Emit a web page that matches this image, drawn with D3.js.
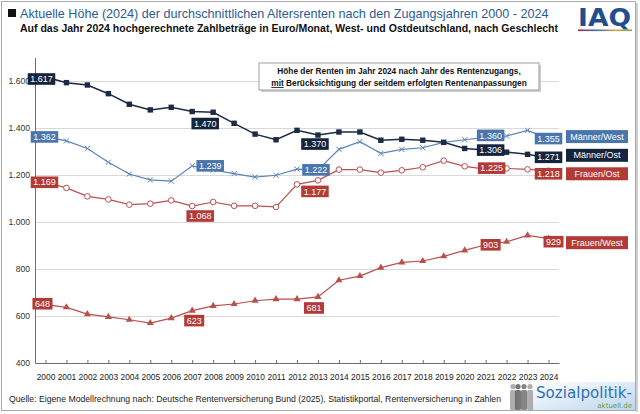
<!DOCTYPE html>
<html>
<head>
<meta charset="utf-8">
<title>Altersrenten nach Zugangsjahren</title>
<script src="https://d3js.org/d3.v7.min.js"></script>
<style>
  html, body { margin: 0; padding: 0; background: #fff; }
  svg { font-family: 'Liberation Sans', Arial, sans-serif; display: block; }
</style>
</head>
<body>
<div id="chart"></div>
<script>
// Daten
const years = [2000, 2001, 2002, 2003, 2004, 2005, 2006, 2007, 2008, 2009, 2010, 2011, 2012,
               2013, 2014, 2015, 2016, 2017, 2018, 2019, 2020, 2021, 2022, 2023, 2024]
const maennerOst  = [1617, 1593, 1583, 1546, 1501, 1477, 1488, 1470, 1467, 1420, 1374, 1350, 1390,
                     1370, 1383, 1383, 1348, 1352, 1348, 1339, 1313, 1306, 1297, 1288, 1271]
const maennerWest = [1362, 1345, 1313, 1254, 1204, 1179, 1174, 1239, 1222, 1206, 1191, 1199, 1225,
                     1222, 1309, 1342, 1292, 1309, 1316, 1339, 1350, 1360, 1366, 1390, 1355]
const frauenOst   = [1169, 1145, 1109, 1096, 1074, 1078, 1092, 1068, 1085, 1069, 1069, 1064, 1160,
                     1177, 1223, 1223, 1210, 1220, 1233, 1261, 1237, 1225, 1228, 1224, 1218]
const frauenWest  = [648, 637, 608, 596, 584, 570, 591, 623, 643, 651, 665, 672, 672,
                     681, 752, 770, 806, 828, 834, 854, 879, 903, 916, 943, 929]
const yTicks = [400, 600, 800, 1000, 1200, 1400, 1600]
const labelYears = [2000, 2007, 2013, 2021, 2024]

const title = 'Aktuelle Höhe (2024) der durchschnittlichen Altersrenten nach den Zugangsjahren 2000 - 2024'
const subtitle = 'Auf das Jahr 2024 hochgerechnete Zahlbeträge in Euro/Monat, West- und Ostdeutschland, nach Geschlecht'
const noteLine1 = 'Höhe der Renten im Jahr 2024 nach Jahr des Rentenzugangs,'
const noteLine2 = ' Berücksichtigung der seitdem erfolgten Rentenanpassungen'
const source = 'Quelle: Eigene Modellrechnung nach: Deutsche Rentenversicherung Bund (2025), Statistikportal, Rentenversicherung in Zahlen'

// Darstellung der Reihen (Farbe, Marker, Lage der Wertelabels)
const series = [
  { name: 'Männer/West', values: maennerWest, line: '#5b83b6', box: '#4a76ad', marker: 'cross',
    offs: [[-1, 0], [18, 0], [-2, 0], [5, -2], [0, 0]], legendDy: -2 },
  { name: 'Männer/Ost', values: maennerOst, line: '#1b2a45', box: '#15243d', marker: 'square',
    offs: [[-4, 2], [13, 12], [-3, 9], [5, 0], [0, -1]], legendDy: -3 },
  { name: 'Frauen/Ost', values: frauenOst, line: '#b9504c', box: '#b23b37', marker: 'circle',
    offs: [[-1, 0], [8, 10], [-3, 11], [6, -1], [0, 3]], legendDy: 3 },
  { name: 'Frauen/West', values: frauenWest, line: '#b9504c', box: '#b23b37', marker: 'triangle',
    offs: [[-3, -1], [2, 10], [-4, 11], [5, 0], [5, 3]], legendDy: 4 }
]

const W = 640, H = 414
const plot = { left: 35, right: 559, top: 57.5, bottom: 363 }

const de = d3.formatLocale({ decimal: ',', thousands: '.', grouping: [3], currency: ['', ' €'] })
const fmt = de.format(',d')

const svg = d3.select('#chart').append('svg')
  .attr('width', W).attr('height', H)

// Rahmen
svg.append('rect')
  .attr('x', 1.5).attr('y', 1.5).attr('width', 634).attr('height', 409)
  .attr('fill', '#fff').attr('stroke', '#a9a9a9')
svg.append('line')
  .attr('x1', 637).attr('x2', 637).attr('y1', 3).attr('y2', 412)
  .attr('stroke', '#d0d0d0').attr('stroke-width', 2)

// Titel
svg.append('rect').attr('x', 8).attr('y', 9).attr('width', 8).attr('height', 8).attr('fill', '#111')
svg.append('text').attr('x', 20).attr('y', 18)
  .attr('font-size', 12.6).attr('fill', '#2c5a95').text(title)
svg.append('text').attr('x', 20).attr('y', 32)
  .attr('font-size', 10.2).attr('font-weight', 'bold').attr('fill', '#111')
  .attr('textLength', 538).attr('lengthAdjust', 'spacingAndGlyphs').text(subtitle)

// IAQ Logo
const grad = svg.append('defs').append('linearGradient').attr('id', 'iaqbar')
grad.selectAll('stop')
  .data([['0%', '#8a2c48'], ['35%', '#3a6db0'], ['70%', '#d8a441'], ['100%', '#6aa84f']])
  .enter().append('stop').attr('offset', d => d[0]).attr('stop-color', d => d[1])
svg.append('text').attr('x', 578).attr('y', 26)
  .attr('font-family', "'DejaVu Sans', sans-serif")
  .attr('font-size', 25).attr('font-weight', 'bold').attr('fill', '#1f4f8f')
  .attr('textLength', 53).attr('lengthAdjust', 'spacingAndGlyphs').text('IAQ')
svg.append('rect').attr('x', 578).attr('y', 29.5).attr('width', 54).attr('height', 1.6)
  .attr('fill', 'url(#iaqbar)')

// Skalen
const x = d3.scalePoint().domain(years).range([plot.left, plot.right]).padding(0.5)
const y = d3.scaleLinear().domain([400, 1700]).range([plot.bottom, plot.top])

// Gitterlinien
svg.append('g')
  .attr('transform', `translate(${plot.left},0)`)
  .call(d3.axisLeft(y).tickValues(yTicks.slice(1)).tickSize(-(plot.right - plot.left)).tickFormat(''))
  .call(g => g.select('.domain').remove())
  .call(g => g.selectAll('line').attr('stroke', '#d9d9d9'))

// Y-Achse
svg.append('g')
  .attr('transform', `translate(${plot.left},0)`)
  .call(d3.axisLeft(y).tickValues(yTicks).tickSize(0).tickPadding(5).tickFormat(fmt))
  .call(g => g.select('.domain').attr('stroke', '#6e6e6e'))
  .call(g => g.selectAll('text').attr('font-size', 8.6).attr('fill', '#333').attr('font-family', null))

// X-Achse
svg.append('g')
  .attr('transform', `translate(0,${plot.bottom})`)
  .call(d3.axisBottom(x).tickSizeInner(-3).tickSizeOuter(0).tickPadding(11))
  .call(g => g.select('.domain').attr('stroke', '#6e6e6e'))
  .call(g => g.selectAll('.tick line').attr('stroke', '#6e6e6e'))
  .call(g => g.selectAll('text').attr('font-size', 8.4).attr('fill', '#222').attr('font-family', null))

// Hinweisbox
const note = svg.append('g')
note.append('rect').attr('x', 261).attr('y', 65).attr('width', 280).attr('height', 27).attr('fill', '#cfcfcf')
note.append('rect').attr('x', 259).attr('y', 63).attr('width', 280).attr('height', 27)
  .attr('fill', '#fff').attr('stroke', '#a0a0a0')
note.append('text').attr('x', 399).attr('y', 74).attr('text-anchor', 'middle')
  .attr('font-size', 8.3).attr('font-weight', 'bold').attr('fill', '#111').text(noteLine1)
const l2 = note.append('text').attr('x', 399).attr('y', 86).attr('text-anchor', 'middle')
  .attr('font-size', 8.3).attr('font-weight', 'bold').attr('fill', '#111')
l2.append('tspan').attr('text-decoration', 'underline').text('mit')
l2.append('tspan').text(noteLine2)

// Linien und Marker
const line = d3.line().x((d, i) => x(years[i])).y(d => y(d))

series.forEach(s => {
  const g = svg.append('g')
  g.append('path').datum(s.values)
    .attr('d', line).attr('fill', 'none').attr('stroke', s.line)
    .attr('stroke-width', s.marker === 'square' ? 1.5 : 1.2)

  const pts = g.selectAll('.pt').data(s.values).enter().append('g')
    .attr('transform', (d, i) => `translate(${x(years[i])},${y(d)})`)

  if (s.marker === 'square') {
    pts.append('rect').attr('x', -2.7).attr('y', -2.7).attr('width', 5.4).attr('height', 5.4).attr('fill', s.line)
  } else if (s.marker === 'cross') {
    pts.append('path').attr('d', 'M-2.6,-2.6L2.6,2.6M-2.6,2.6L2.6,-2.6').attr('stroke', s.line).attr('stroke-width', 1)
  } else if (s.marker === 'circle') {
    pts.append('circle').attr('r', 2.8).attr('fill', '#fff').attr('stroke', s.line).attr('stroke-width', 1)
  } else {
    pts.append('path').attr('d', d3.symbol(d3.symbolTriangle, 22)).attr('fill', s.line)
  }
})

// Wertelabels
series.forEach(s => {
  labelYears.forEach((yr, k) => {
    const i = years.indexOf(yr)
    const cx = x(yr) + s.offs[k][0]
    const cy = y(s.values[i]) + s.offs[k][1]
    const g = svg.append('g').attr('transform', `translate(${cx},${cy})`)
    const t = g.append('text').attr('text-anchor', 'middle').attr('dy', '0.35em')
      .attr('font-size', 9).attr('fill', '#fff').text(fmt(s.values[i]))
    const bw = t.node().getComputedTextLength() + 5
    g.insert('rect', 'text').attr('x', -bw / 2).attr('y', -5.8).attr('width', bw).attr('height', 11.6)
      .attr('fill', s.box)
  })
})

// Legende rechts
series.forEach(s => {
  const cy = y(s.values[s.values.length - 1]) + s.legendDy
  const g = svg.append('g').attr('transform', `translate(566,${cy})`)
  g.append('rect').attr('x', 0).attr('y', -6.5).attr('width', 62).attr('height', 13).attr('fill', s.box)
  g.append('text').attr('x', 31).attr('dy', '0.35em').attr('text-anchor', 'middle')
    .attr('font-size', 9).attr('fill', '#fff').text(s.name)
})

// Quelle
svg.append('text').attr('x', 9).attr('y', 402)
  .attr('font-size', 8.4).attr('fill', '#222')
  .attr('textLength', 492).attr('lengthAdjust', 'spacingAndGlyphs').text(source)

// Sozialpolitik-aktuell Logo
const lg = svg.append('defs').append('linearGradient').attr('id', 'spgrad')
  .attr('x1', '0%').attr('y1', '0%').attr('x2', '100%').attr('y2', '100%')
lg.append('stop').attr('offset', '0%').attr('stop-color', '#ffffff')
lg.append('stop').attr('offset', '100%').attr('stop-color', '#bcd6ef')
svg.append('rect').attr('x', 532).attr('y', 382).attr('width', 103).attr('height', 28).attr('fill', 'url(#spgrad)')
const people = [[513, 0.5], [518, 0.85], [524, 0.75], [530, 0.5]]
people.forEach(p => {
  svg.append('circle').attr('cx', p[0]).attr('cy', 386.5).attr('r', 2.6).attr('fill', '#5e5e5e').attr('opacity', p[1])
  svg.append('rect').attr('x', p[0] - 3).attr('y', 390).attr('width', 6).attr('height', 20).attr('rx', 1.5)
    .attr('fill', '#5e5e5e').attr('opacity', p[1])
})
svg.append('text').attr('x', 536).attr('y', 398)
  .attr('font-family', "'DejaVu Sans', sans-serif").attr('font-size', 15)
  .attr('textLength', 96).attr('lengthAdjust', 'spacingAndGlyphs').attr('fill', '#2f70b8').text('Sozialpolitik-')
svg.append('text').attr('x', 632).attr('y', 408).attr('text-anchor', 'end')
  .attr('font-family', "'DejaVu Sans', sans-serif").attr('font-size', 7)
  .attr('fill', '#6b9a3d').text('aktuell.de')
</script>
</body>
</html>
